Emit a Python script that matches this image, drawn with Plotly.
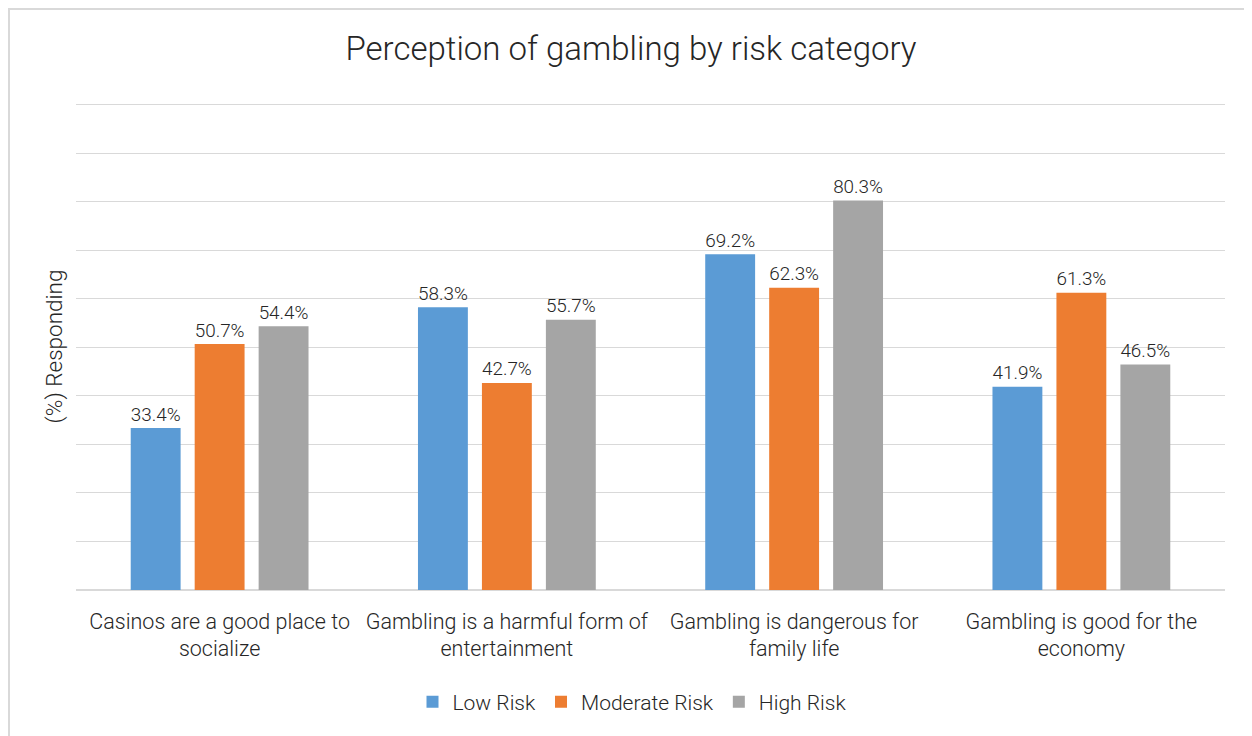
import plotly.graph_objects as go

# Data
categories = [
    "Casinos are a good place to<br>socialize",
    "Gambling is a harmful form of<br>entertainment",
    "Gambling is dangerous for<br>family life",
    "Gambling is good for the<br>economy",
]
series_names = ["Low Risk", "Moderate Risk", "High Risk"]
low_risk = [33.4, 58.3, 69.2, 41.9]
moderate_risk = [50.7, 42.7, 62.3, 61.3]
high_risk = [54.4, 55.7, 80.3, 46.5]
colors = ["#5B9BD5", "#ED7D31", "#A5A5A5"]

FONT = "Roboto, Arial, sans-serif"
TEXT_COLOR = "#262626"
GRID = "#d9d9d9"

# page has an 8px body margin, so shift everything up/left by that much
OFF = 8
W, H = 1252, 736
PLOT_W, PLOT_H = 1149, 487

fig = go.Figure()
for name, vals, col in zip(series_names, [low_risk, moderate_risk, high_risk], colors):
    fig.add_trace(go.Bar(
        x=categories,
        y=vals,
        name=name,
        marker=dict(color=col, line=dict(width=0)),
        text=[f"{v:.1f}%" for v in vals],
        textposition="outside",
        textfont=dict(family=FONT, size=21.5, color=TEXT_COLOR, weight=300),
        cliponaxis=False,
    ))

# Light border around the chart, hugging the figure's top-left edge
fig.add_shape(
    type="rect", xref="paper", yref="paper",
    x0=-(76 - OFF - 1) / PLOT_W, x1=1.2,
    y0=-0.5, y1=1 + (103 - OFF - 1) / PLOT_H,
    line=dict(color=GRID, width=2), layer="below",
)

fig.update_layout(
    width=W,
    height=H,
    paper_bgcolor="white",
    plot_bgcolor="white",
    margin=dict(l=76 - OFF, r=27 + OFF, t=103 - OFF, b=146 + OFF),
    font=dict(family=FONT, size=21, color=TEXT_COLOR, weight=300),
    title=dict(
        text="Perception of gambling by risk category",
        font=dict(family=FONT, size=33, color=TEXT_COLOR, weight=300),
        x=(631 - OFF) / W, xanchor="center", xref="container",
        y=1 - (48 - OFF) / H, yanchor="middle",
    ),
    barmode="group",
    bargap=0.332,
    bargroupgap=0.22,
    showlegend=True,
    legend=dict(
        orientation="h",
        x=(632 - OFF) / W, xanchor="center", xref="container",
        y=1 - (702 - OFF) / H, yanchor="middle", yref="container",
        font=dict(family=FONT, size=21, color=TEXT_COLOR, weight=300),
        itemwidth=30,
    ),
)

fig.update_xaxes(
    showgrid=False,
    showline=False,
    ticks="",
    ticklabelstandoff=16,
    tickfont=dict(family=FONT, size=21.5, color=TEXT_COLOR, weight=300),
)
fig.update_yaxes(
    range=[0, 100.4],
    tickvals=[0, 10, 20, 30, 40, 50, 60, 70, 80, 90, 100],
    showticklabels=False,
    showgrid=True,
    gridcolor=GRID,
    gridwidth=1.3,
    zeroline=True,
    zerolinecolor=GRID,
    zerolinewidth=1.5,
    title=dict(
        text="(%) Responding",
        font=dict(family=FONT, size=22.5, color=TEXT_COLOR, weight=300),
        standoff=6,
    ),
)

fig.write_html("out.html")
